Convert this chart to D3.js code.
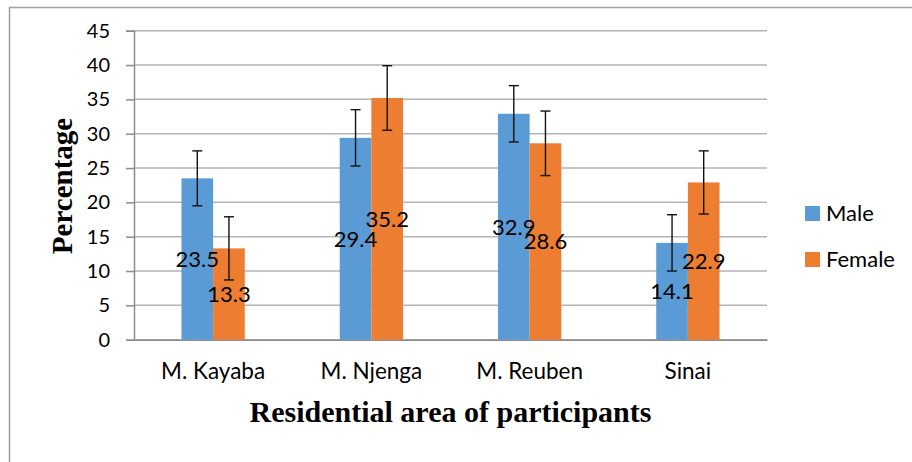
<!DOCTYPE html>
<html>
<head>
<meta charset="utf-8">
<script src="https://cdn.jsdelivr.net/npm/d3@7"></script>
<style>
  body { margin: 0; background: #fff; }
  svg { display: block; }
</style>
</head>
<body>
<script>
// values
var areas = ["M. Kayaba", "M. Njenga", "M. Reuben", "Sinai"]
var seriesNames = ["Male", "Female"]
var maleValues = [23.5, 29.4, 32.9, 14.1]
var femaleValues = [13.3, 35.2, 28.6, 22.9]
var maleErrors = [4.0, 4.1, 4.1, 4.1]
var femaleErrors = [4.6, 4.7, 4.7, 4.6]
var yTicks = [0, 5, 10, 15, 20, 25, 30, 35, 40, 45]

var colors = {"Male": "#5B9BD5", "Female": "#ED7D31"}

var width = 912, height = 462
var margin = {top: 30.7, left: 134, right: 145, bottom: 122.3}

var svg = d3.select("body")
  .append("svg")
  .attr("width", width)
  .attr("height", height)

// outer frame (only top and left edges show in the picture)
svg.append("rect")
  .attr("x", 9.5)
  .attr("y", 7.5)
  .attr("width", 920)
  .attr("height", 480)
  .attr("fill", "none")
  .attr("stroke", "#a0a0a0")
  .attr("stroke-width", 1.5)

var yScale = d3.scaleLinear()
  .domain([0, 45])
  .range([height - margin.bottom, margin.top])

var xScale = d3.scaleBand()
  .domain(areas)
  .range([margin.left, width - margin.right])
  .padding(0)

// gap width 150% like the spreadsheet chart
var groupWidth = xScale.bandwidth() / 2.5
var seriesScale = d3.scaleBand()
  .domain(seriesNames)
  .range([-groupWidth / 2, groupWidth / 2])

// gridlines
svg.append("g")
  .selectAll("line")
  .data(yTicks)
  .enter()
  .append("line")
  .attr("x1", margin.left)
  .attr("x2", width - margin.right)
  .attr("y1", function(d) { return yScale(d) })
  .attr("y2", function(d) { return yScale(d) })
  .attr("stroke", "#b3b3b3")
  .attr("stroke-width", 1.5)

// y axis
var yAxis = svg.append("g")
  .attr("transform", "translate(" + margin.left + ",0)")
  .call(d3.axisLeft(yScale).tickValues(yTicks).tickSize(8).tickPadding(16))
yAxis.select(".domain").attr("stroke", "#8c8c8c").attr("stroke-width", 1.5)
yAxis.selectAll(".tick line").attr("stroke", "#8c8c8c").attr("stroke-width", 1.5)
yAxis.selectAll("text")
  .attr("font-family", "Lato, 'Open Sans', sans-serif")
  .attr("font-size", 20)
  .attr("fill", "#000")

// x axis
var xAxis = svg.append("g")
  .attr("transform", "translate(0," + yScale(0) + ")")
  .call(d3.axisBottom(xScale).tickSize(0).tickPadding(23))
xAxis.select(".domain").attr("stroke", "#8c8c8c").attr("stroke-width", 1.5)
xAxis.selectAll("text")
  .attr("font-family", "Lato, 'Open Sans', sans-serif")
  .attr("font-size", 22.5)
  .attr("fill", "#000")

// build rows from the arrays
var rows = areas.map(function(a, i) {
  return {
    area: a,
    bars: [
      {series: "Male", value: maleValues[i], err: maleErrors[i]},
      {series: "Female", value: femaleValues[i], err: femaleErrors[i]}
    ]
  }
})

var groups = svg.selectAll(".group")
  .data(rows)
  .enter()
  .append("g")
  .attr("class", "group")
  .attr("transform", function(d) {
    return "translate(" + (xScale(d.area) + xScale.bandwidth() / 2) + ",0)"
  })

groups.selectAll("rect")
  .data(function(d) { return d.bars })
  .enter()
  .append("rect")
  .attr("x", function(b) { return seriesScale(b.series) })
  .attr("width", seriesScale.bandwidth())
  .attr("y", function(b) { return yScale(b.value) })
  .attr("height", function(b) { return yScale(0) - yScale(b.value) })
  .attr("fill", function(b) { return colors[b.series] })

// error bars
var capHalf = 5
var errs = groups.selectAll(".err")
  .data(function(d) { return d.bars })
  .enter()
  .append("g")
  .attr("class", "err")
  .attr("stroke", "#111")
  .attr("stroke-width", 1.4)
  .attr("transform", function(b) {
    return "translate(" + (seriesScale(b.series) + seriesScale.bandwidth() / 2) + ",0)"
  })
errs.append("line")
  .attr("x1", 0).attr("x2", 0)
  .attr("y1", function(b) { return yScale(b.value + b.err) })
  .attr("y2", function(b) { return yScale(b.value - b.err) })
errs.append("line")
  .attr("x1", -capHalf).attr("x2", capHalf)
  .attr("y1", function(b) { return yScale(b.value + b.err) })
  .attr("y2", function(b) { return yScale(b.value + b.err) })
errs.append("line")
  .attr("x1", -capHalf).attr("x2", capHalf)
  .attr("y1", function(b) { return yScale(b.value - b.err) })
  .attr("y2", function(b) { return yScale(b.value - b.err) })

// data labels, centred in each bar
groups.selectAll(".lbl")
  .data(function(d) { return d.bars })
  .enter()
  .append("text")
  .attr("class", "lbl")
  .attr("x", function(b) { return seriesScale(b.series) + seriesScale.bandwidth() / 2 })
  .attr("y", function(b) { return (yScale(b.value) + yScale(0)) / 2 })
  .attr("dy", "0.36em")
  .attr("text-anchor", "middle")
  .attr("font-family", "Lato, 'Open Sans', sans-serif")
  .attr("font-size", 22)
  .attr("fill", "#000")
  .text(function(b) { return b.value.toFixed(1) })

// legend
var legend = svg.append("g")
  .attr("transform", "translate(805,206)")
var legendItems = legend.selectAll("g")
  .data(seriesNames)
  .enter()
  .append("g")
  .attr("transform", function(d, i) { return "translate(0," + (i * 46) + ")" })
legendItems.append("rect")
  .attr("width", 15)
  .attr("height", 15)
  .attr("fill", function(d) { return colors[d] })
legendItems.append("text")
  .attr("x", 21)
  .attr("y", 15)
  .attr("font-family", "Lato, 'Open Sans', sans-serif")
  .attr("font-size", 22)
  .attr("fill", "#000")
  .text(function(d) { return d })

// axis titles
svg.append("text")
  .attr("x", (margin.left + width - margin.right) / 2)
  .attr("y", 422)
  .attr("text-anchor", "middle")
  .attr("font-family", "'Liberation Serif', 'Times New Roman', serif")
  .attr("font-weight", "bold")
  .attr("font-size", 30)
  .attr("fill", "#000")
  .text("Residential area of participants")

svg.append("text")
  .attr("transform", "translate(72,186) rotate(-90)")
  .attr("text-anchor", "middle")
  .attr("font-family", "'Liberation Serif', 'Times New Roman', serif")
  .attr("font-weight", "bold")
  .attr("font-size", 29)
  .attr("fill", "#000")
  .text("Percentage")
</script>
</body>
</html>
